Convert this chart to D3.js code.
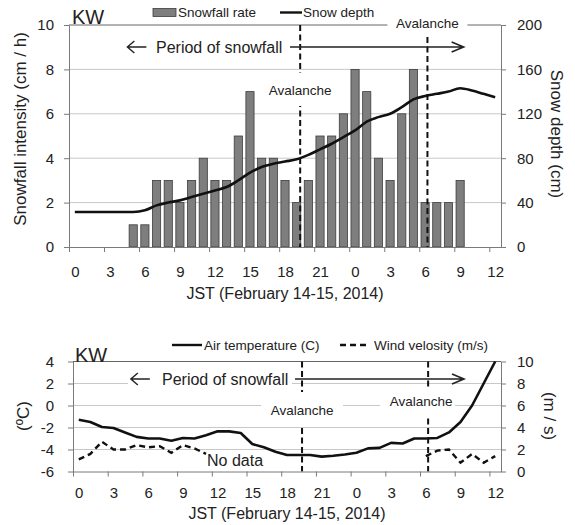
<!DOCTYPE html>
<html>
<head>
<meta charset="utf-8">
<script src="https://cdn.jsdelivr.net/npm/d3@7"></script>
<style>
  body { margin: 0; background: #fff; }
  svg text { font-family: "Liberation Sans", Arial, sans-serif; fill: #222; }
</style>
</head>
<body>
<svg id="chart" width="575" height="525"></svg>
<script>
// hours since 00:00 JST Feb 14, 2014 (36 = 12:00 Feb 15)
const hours = [0,1,2,3,4,5,6,7,8,9,10,11,12,13,14,15,16,17,18,19,20,21,22,23,24,25,26,27,28,29,30,31,32,33,34,35,36];
const tickHours = [0,3,6,9,12,15,18,21,24,27,30,33,36];

// snowfall rate (cm/h), null = no snowfall
const snowfallRate = [null,null,null,null,null,1,1,3,3,2,3,4,3,3,5,7,4,4,3,2,3,5,5,6,8,7,4,3,6,8,2,2,2,3,null,null,null];
// snow depth (cm)
const snowDepth = [31.5,31.5,31.5,31.5,31.5,31.5,33,37.5,40,42,45,48,51,54,60,67,72,75,77,79,83,88,93,99,105,113,117,120,126,133,136,138,140,143,141,138,135];
// air temperature (C)
const airTemp = [-1.3,-1.5,-1.95,-2.05,-2.45,-2.85,-3.0,-3.0,-3.2,-2.95,-3.0,-2.7,-2.35,-2.35,-2.5,-3.5,-3.8,-4.2,-4.5,-4.5,-4.5,-4.65,-4.57,-4.45,-4.3,-3.9,-3.85,-3.4,-3.45,-3.0,-3.0,-2.95,-2.45,-1.5,0,2.0,4.0];
// wind velocity (m/s), null = no data
const windVel = [1.1,1.6,2.7,2.0,2.0,2.4,2.2,2.3,1.7,2.4,2.1,1.6,null,null,null,null,null,null,null,null,null,null,null,null,null,null,null,null,null,null,1.4,1.9,2.0,0.8,1.6,0.8,1.4];

const avalancheHours = [19.3, 30.2];
const periodHours = [4.5, 33.3];

const svg = d3.select("#chart");
const axisColor = "#7a7a7a", gridColor = "#c8c8c8";

// ---------- helpers ----------
function hourFmt(d) { return String(d % 24); }

function styleAxis(g) {
  g.selectAll("path.domain").attr("stroke", axisColor);
  g.selectAll(".tick line").attr("stroke", axisColor);
  g.selectAll(".tick text").style("font-size", "15px").attr("fill", "#222");
}

function grid(g, x, y, vals) {
  g.selectAll("line.grid").data(vals).join("line")
    .attr("class", "grid")
    .attr("x1", x.range()[0]).attr("x2", x.range()[1])
    .attr("y1", d => y(d)).attr("y2", d => y(d))
    .attr("stroke", gridColor).attr("stroke-width", 1);
}

function avalanche(g, x, y0, y1, hr) {
  g.append("line")
    .attr("x1", x(hr + 0.5)).attr("x2", x(hr + 0.5))
    .attr("y1", y0).attr("y2", y1)
    .attr("stroke", "#111").attr("stroke-width", 2)
    .attr("stroke-dasharray", "6,3.5");
}

function label(g, text, cx, cy, box) {
  if (box) {
    g.append("rect").attr("x", box[0]).attr("y", box[1])
      .attr("width", box[2] - box[0]).attr("height", box[3] - box[1])
      .attr("fill", "#fff");
  }
  g.append("text").attr("x", cx).attr("y", cy)
    .attr("text-anchor", "middle").style("font-size", "13.5px").text(text);
}

function period(g, x, yPix, textStart, lineStart) {
  const xl = x(periodHours[0] + 0.5), xr = x(periodHours[1] + 0.5);
  // left arrow
  g.append("path")
    .attr("d", `M${xl + 19},${yPix} H${xl} M${xl + 7},${yPix - 6} L${xl},${yPix} L${xl + 7},${yPix + 6}`)
    .attr("fill", "none").attr("stroke", "#222").attr("stroke-width", 1.4);
  g.append("text").attr("x", textStart).attr("y", yPix + 6)
    .style("font-size", "16px").text("Period of snowfall");
  // right arrow
  g.append("path")
    .attr("d", `M${lineStart},${yPix} H${xr} M${xr - 12},${yPix - 5} L${xr},${yPix} L${xr - 12},${yPix + 5}`)
    .attr("fill", "none").attr("stroke", "#222").attr("stroke-width", 1.6);
}

// ================= TOP PANEL =================
const x1 = d3.scaleLinear().domain([0, 37]).range([69, 501]);
const yL1 = d3.scaleLinear().domain([0, 10]).range([247, 25]);
const yR1 = d3.scaleLinear().domain([0, 200]).range([247, 25]);
const step1 = x1(1) - x1(0);
const xBar = d3.scaleBand().domain(hours).range(x1.range()).paddingInner(0.3).paddingOuter(0.15);

const topG = svg.append("g");
grid(topG, x1, yL1, [2, 4, 6, 8]);
topG.append("line").attr("x1", x1.range()[0]).attr("x2", x1.range()[1])
  .attr("y1", yL1(10)).attr("y2", yL1(10)).attr("stroke", "#666");

// bars
topG.append("g").selectAll("rect")
  .data(hours.filter(h => snowfallRate[h] != null))
  .join("rect")
  .attr("x", h => xBar(h)).attr("width", xBar.bandwidth())
  .attr("y", h => yL1(snowfallRate[h]))
  .attr("height", h => yL1(0) - yL1(snowfallRate[h]))
  .attr("fill", "#7e7e7e").attr("stroke", "#3c3c3c").attr("stroke-width", 0.8);

// snow depth
topG.append("path")
  .datum(hours)
  .attr("d", d3.line().x(h => x1(h + 0.5)).y(h => yR1(snowDepth[h])).curve(d3.curveMonotoneX))
  .attr("fill", "none").attr("stroke", "#111").attr("stroke-width", 2.6);

// axes
topG.append("g").attr("transform", `translate(${x1.range()[0]},0)`)
  .call(d3.axisLeft(yL1).tickValues([0,2,4,6,8,10]).tickSize(5).tickSizeOuter(0).tickPadding(10))
  .call(styleAxis);
topG.append("g").attr("transform", `translate(${x1.range()[1]},0)`)
  .call(d3.axisRight(yR1).tickValues([0,40,80,120,160,200]).tickSize(5).tickSizeOuter(0).tickPadding(11))
  .call(styleAxis);
const xa1 = topG.append("g").attr("transform", `translate(0,${yL1(0)})`)
  .call(d3.axisBottom(x1).tickValues(tickHours).tickFormat(hourFmt).tickSize(5).tickSizeOuter(0).tickPadding(14))
  .call(styleAxis);
xa1.selectAll(".tick text").attr("x", step1 / 2);

// avalanche lines + labels
avalanche(topG, x1, yL1(10), yL1(0), avalancheHours[0]);
avalanche(topG, x1, yL1(10) + 12, yL1(0), avalancheHours[1]);
{
  const a = x1(avalancheHours[0] + 0.5), b = x1(avalancheHours[1] + 0.5);
  label(topG, "Avalanche", a, 95, [a - 40, 73, a + 40, 106]);
  label(topG, "Avalanche", b, 28, [b - 40, 14, b + 40, 36]);
}
period(topG, x1, 47, 156, 290);

topG.append("text").attr("x", 72).attr("y", 24).style("font-size", "20px").text("KW");

// legend
topG.append("rect").attr("x", 153).attr("y", 8.5).attr("width", 23).attr("height", 8)
  .attr("fill", "#7e7e7e").attr("stroke", "#3c3c3c").attr("stroke-width", 0.8);
topG.append("text").attr("x", 178).attr("y", 17).style("font-size", "13.5px").text("Snowfall rate");
topG.append("line").attr("x1", 280).attr("x2", 302).attr("y1", 12.5).attr("y2", 12.5)
  .attr("stroke", "#111").attr("stroke-width", 2.4);
topG.append("text").attr("x", 303).attr("y", 17).style("font-size", "13.5px").text("Snow depth");

// titles
topG.append("text").attr("transform", "translate(26,129) rotate(-90)")
  .attr("text-anchor", "middle").style("font-size", "17px").text("Snowfall intensity  (cm / h)");
topG.append("text").attr("transform", "translate(551,134) rotate(90)")
  .attr("text-anchor", "middle").style("font-size", "17px").text("Snow depth (cm)");
topG.append("text").attr("x", (x1.range()[0] + x1.range()[1]) / 2).attr("y", 299)
  .attr("text-anchor", "middle").style("font-size", "16px").text("JST (February 14-15, 2014)");

// ================= BOTTOM PANEL =================
const x2 = d3.scaleLinear().domain([0, 37]).range([73, 501]);
const yL2 = d3.scaleLinear().domain([-6, 4]).range([471.5, 361.5]);
const yR2 = d3.scaleLinear().domain([0, 10]).range([471.5, 361.5]);
const step2 = x2(1) - x2(0);

const botG = svg.append("g");
grid(botG, x2, yL2, [2, 0, -2, -4]);
botG.append("line").attr("x1", x2.range()[0]).attr("x2", x2.range()[1])
  .attr("y1", yL2(4)).attr("y2", yL2(4)).attr("stroke", "#666");

{
  const a = x2(avalancheHours[0] + 0.5), b = x2(avalancheHours[1] + 0.5);
  // white boxes hide grid behind labels
  botG.append("rect").attr("x", 128).attr("y", 370).attr("width", 164).attr("height", 22).attr("fill", "#fff");
  avalanche(botG, x2, yL2(4), yL2(-6), avalancheHours[0]);
  avalanche(botG, x2, yL2(4), yL2(-6), avalancheHours[1]);
  label(botG, "Avalanche", a, 415, [a - 41, 392, a + 41, 426]);
  label(botG, "Avalanche", b - 7, 406, [b - 48, 387, b + 27, 416]);
}
period(botG, x2, 379, 162, 295);

// air temperature
botG.append("path")
  .datum(hours)
  .attr("d", d3.line().x(h => x2(h + 0.5)).y(h => yL2(airTemp[h])))
  .attr("fill", "none").attr("stroke", "#111").attr("stroke-width", 2.6).attr("stroke-linejoin", "round");
// wind velocity
botG.append("path")
  .datum(hours)
  .attr("d", d3.line().defined(h => windVel[h] != null).x(h => x2(h + 0.5)).y(h => yR2(windVel[h])))
  .attr("fill", "none").attr("stroke", "#111").attr("stroke-width", 2.4).attr("stroke-dasharray", "6,4");

botG.append("text").attr("x", 207).attr("y", 466).style("font-size", "16px").text("No data");

// axes
botG.append("g").attr("transform", `translate(${x2.range()[0]},0)`)
  .call(d3.axisLeft(yL2).tickValues([-6,-4,-2,0,2,4]).tickFormat(d => String(d)).tickSize(5).tickSizeOuter(0).tickPadding(14))
  .call(styleAxis);
botG.append("g").attr("transform", `translate(${x2.range()[1]},0)`)
  .call(d3.axisRight(yR2).tickValues([0,2,4,6,8,10]).tickSize(5).tickSizeOuter(0).tickPadding(11))
  .call(styleAxis);
const xa2 = botG.append("g").attr("transform", `translate(0,${yL2(-6)})`)
  .call(d3.axisBottom(x2).tickValues(tickHours).tickFormat(hourFmt).tickSize(5).tickSizeOuter(0).tickPadding(11))
  .call(styleAxis);
xa2.selectAll(".tick text").attr("x", step2 / 2);

botG.append("text").attr("x", 75).attr("y", 362).style("font-size", "20px").text("KW");

// legend
botG.append("line").attr("x1", 172).attr("x2", 202).attr("y1", 345).attr("y2", 345)
  .attr("stroke", "#111").attr("stroke-width", 2.4);
botG.append("text").attr("x", 204).attr("y", 349.5).style("font-size", "13.5px").text("Air temperature (C)");
botG.append("line").attr("x1", 340).attr("x2", 368).attr("y1", 345).attr("y2", 345)
  .attr("stroke", "#111").attr("stroke-width", 2.4).attr("stroke-dasharray", "6,4");
botG.append("text").attr("x", 374).attr("y", 349.5).style("font-size", "13.5px").text("Wind velosity (m/s)");

// titles
botG.append("text").attr("transform", "translate(29,416) rotate(-90)")
  .attr("text-anchor", "middle").style("font-size", "17px").text("(\u00baC)");
botG.append("text").attr("transform", "translate(544,416) rotate(90)")
  .attr("text-anchor", "middle").style("font-size", "17px").text("(m / s)");
botG.append("text").attr("x", (x2.range()[0] + x2.range()[1]) / 2).attr("y", 518.5)
  .attr("text-anchor", "middle").style("font-size", "16px").text("JST (February 14-15, 2014)");
</script>
</body>
</html>
